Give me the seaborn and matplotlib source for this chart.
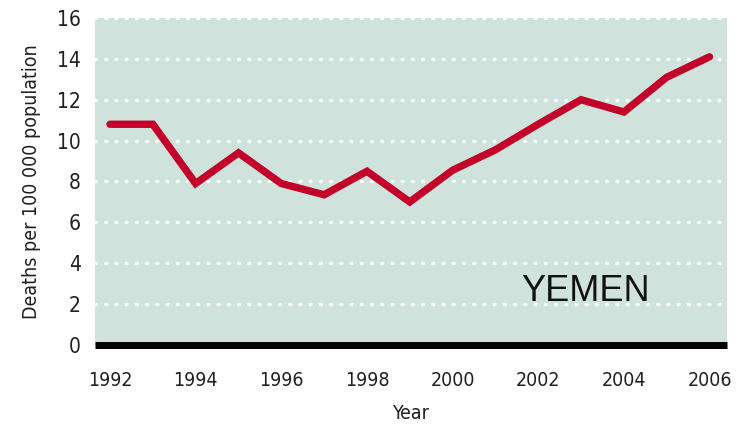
import pandas as pd
import seaborn as sns
import matplotlib.pyplot as plt
from matplotlib import font_manager

# Data
years = list(range(1992, 2007))
deaths = [10.8, 10.8, 7.9, 9.4, 7.9, 7.35, 8.5, 7.0, 8.55, 9.55, 10.8, 12.0, 11.4, 13.1, 14.1]
x_ticks = [1992, 1994, 1996, 1998, 2000, 2002, 2004, 2006]
y_ticks = [0, 2, 4, 6, 8, 10, 12, 14, 16]

df = pd.DataFrame({'Year': years, 'Deaths': deaths})

sns.set_style("white")

# Pick a narrow font for the axis text if one is around
names = {f.name for f in font_manager.fontManager.ttflist}
if 'Liberation Sans Narrow' in names:
    tick_font = dict(family='Liberation Sans Narrow')
else:
    tick_font = dict(family='DejaVu Sans', stretch='condensed')

fig = plt.figure(figsize=(7.44, 4.32), dpi=100)
ax = fig.add_axes([0.1277, 0.2014, 0.849, 0.757])
ax.set_facecolor('#cfe3dc')

sns.lineplot(data=df, x='Year', y='Deaths', color='#c2002a', linewidth=5.3,
             solid_capstyle='round', solid_joinstyle='miter', ax=ax, zorder=3)

# Dotted white gridlines
for v in y_ticks[1:]:
    ax.axhline(v, color='white', linewidth=2.3, linestyle=(0, (0.3, 2.9)),
               dash_capstyle='round', zorder=2, clip_on=False)

ax.set_xlim(1991.65, 2006.4)
ax.set_ylim(0, 16)
ax.set_xticks(x_ticks)
ax.set_yticks(y_ticks)
ax.set_xticklabels([str(t) for t in x_ticks], fontsize=14, color='#231f20', **tick_font)
ax.set_yticklabels([str(t) for t in y_ticks], fontsize=15, color='#231f20', **tick_font)
ax.tick_params(axis='both', length=0)
ax.tick_params(axis='x', pad=19)
ax.tick_params(axis='y', pad=10)

for side in ['top', 'right', 'left']:
    ax.spines[side].set_visible(False)
ax.spines['bottom'].set_color('black')
ax.spines['bottom'].set_linewidth(5)
ax.spines['bottom'].set_capstyle('butt')
ax.spines['bottom'].set_zorder(4)

ax.set_xlabel('Year', fontsize=14, color='#231f20', labelpad=10, **tick_font)
ax.set_ylabel('Deaths per 100 000 population', fontsize=14, color='#231f20',
              labelpad=12, **tick_font)

ax.text(2003.1, 2.6, 'YEMEN', fontsize=26, family='Liberation Sans',
        ha='center', va='center', color='#111111', zorder=5)

fig.savefig('out.png', dpi=100)
